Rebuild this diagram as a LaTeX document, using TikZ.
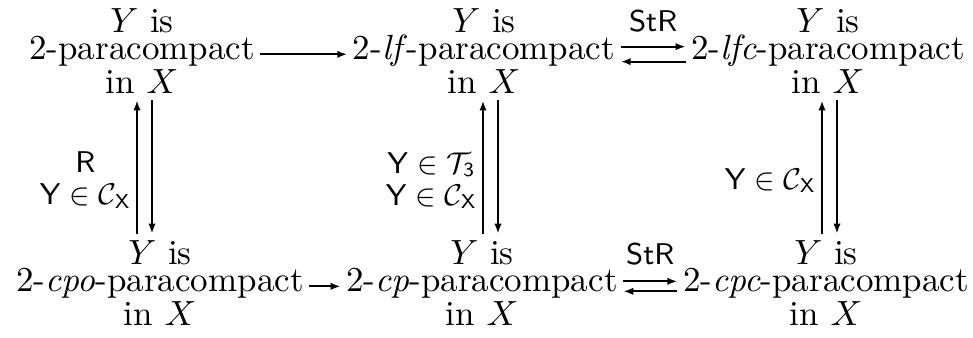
\RequirePackage{fix-cm}
\documentclass[tikz,border=0pt]{standalone}
\usetikzlibrary{arrows.meta}
\tikzset{
  prop/.style={align=center, inner xsep=1.5pt, inner ysep=1.8pt,
               font=\fontsize{10.5}{8.2}\selectfont},
  lbl/.style={align=center, inner sep=1.5pt,
              font=\fontsize{9}{9.6}\selectfont\sffamily},
  impl/.style={-{Latex[length=3pt,width=2.2pt]}, line width=0.6pt},
}
\newcommand{\Yis}{$Y$ is}
\newcommand{\inX}{in $X$}
\newcommand{\YinC}{$\mathsf{Y}\in\mathcal{C}_{\mathsf{X}}$}

\begin{document}
\begin{tikzpicture}[x=0.3pt,y=-0.3pt]
\useasboundingbox (0,0) rectangle (973,338);
% top row
\node[prop] (para)    at (142,51) {\Yis\\2-paracompact\\\inX};
\node[prop] (lfpara)  at (484,51) {\Yis\\2-\textit{lf}-paracompact\\\inX};
\node[prop] (lfcpara) at (828,51) {\Yis\\2-\textit{lfc}-paracompact\\\inX};
% bottom row
\node[prop] (cpopara) at (160,283) {\Yis\\2-\textit{cpo}-paracompact\\\inX};
\node[prop] (cppara)  at (482,283) {\Yis\\2-\textit{cp}-paracompact\\\inX};
\node[prop] (cpcpara) at (826,283) {\Yis\\2-\textit{cpc}-paracompact\\\inX};

% horizontal
\draw[impl] ([yshift=-1pt]para.east) -- ([yshift=-1pt]lfpara.west);
\draw[impl] ([yshift=1.3pt]lfpara.east) -- ([yshift=1.3pt]lfcpara.west)
  node[lbl, midway, above=2.5pt] {StR};
\draw[impl] ([yshift=-3.2pt]lfcpara.west) -- ([yshift=-3.2pt]lfpara.east);
\draw[impl] ([yshift=-1pt]cpopara.east) -- ([yshift=-1pt]cppara.west);
\draw[impl] ([yshift=0.5pt]cppara.east) -- ([yshift=0.5pt]cpcpara.west)
  node[lbl, midway, above=3pt] {StR};
\draw[impl] ([yshift=-2.5pt]cpcpara.west) -- ([yshift=-2.5pt]cppara.east);

% vertical
\draw[impl] ([shift={(-5,0)}]para.south |- cpopara.north) -- ([shift={(-5,0)}]para.south)
  node[lbl, left, pos=0.4] {R\\\YinC};
\draw[impl] ([shift={(10,0)}]para.south) -- ([shift={(10,0)}]para.south |- cpopara.north);
\draw[impl] ([shift={(-1,0)}]lfpara.south |- cppara.north) -- ([shift={(-1,0)}]lfpara.south)
  node[lbl, left, pos=0.4] {$\mathsf{Y}\in\mathcal{T}_{\mathsf{3}}$\\\YinC};
\draw[impl] ([shift={(14,0)}]lfpara.south) -- ([shift={(14,0)}]lfpara.south |- cppara.north);
\draw[impl] ([shift={(-6,0)}]lfcpara.south |- cpcpara.north) -- ([shift={(-6,0)}]lfcpara.south)
  node[lbl, left, pos=0.4] {\YinC};
\draw[impl] ([shift={(9,0)}]lfcpara.south) -- ([shift={(9,0)}]lfcpara.south |- cpcpara.north);
\end{tikzpicture}
\end{document}
